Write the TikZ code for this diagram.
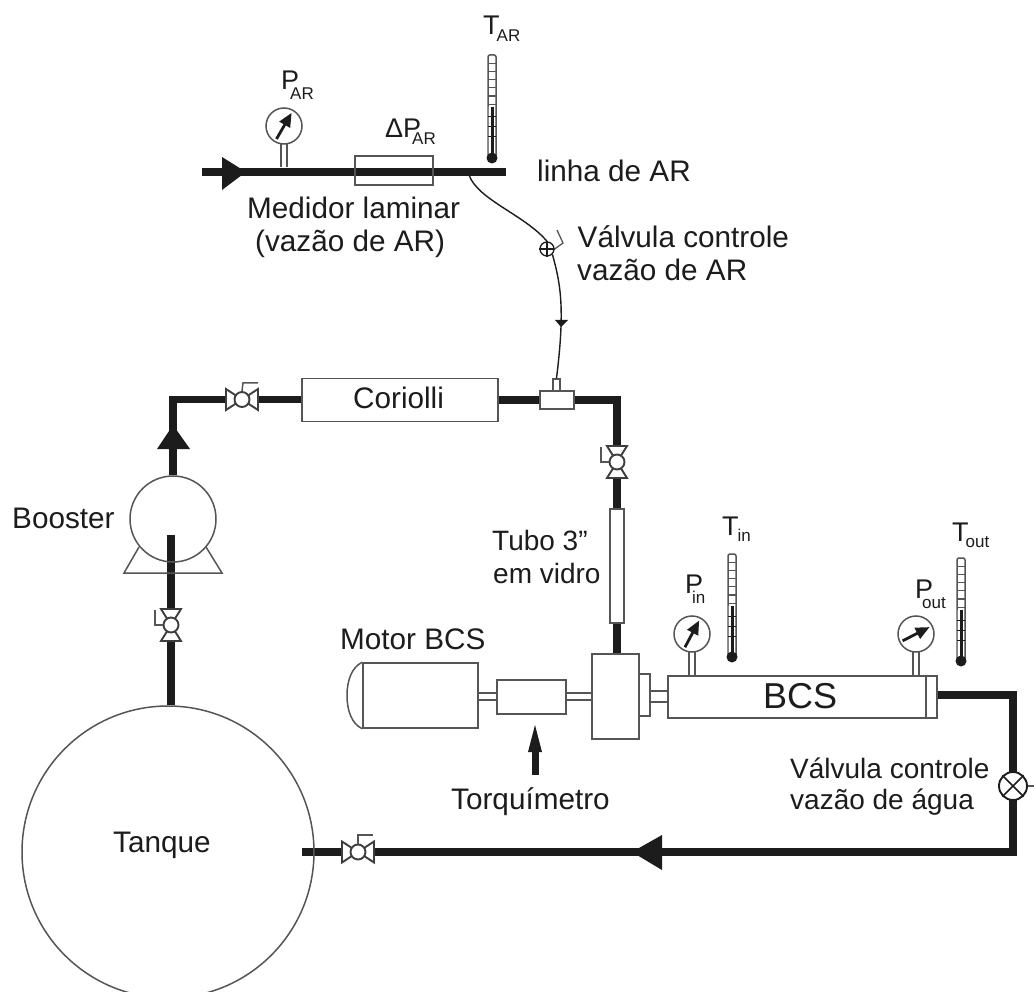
\documentclass[tikz,border=0pt]{standalone}
\usepackage{fontspec}
\setmainfont{Liberation Sans}
\usetikzlibrary{backgrounds}
\definecolor{ink}{HTML}{1C1C1C}
\definecolor{edge}{HTML}{555555}
\tikzset{
  pipe/.style={line width=7.5pt,ink,line join=miter},
  thinbox/.style={draw=edge,line width=1.5pt,minimum width=0pt,minimum height=0pt,inner sep=0pt},
  outline/.style={draw=edge,line width=1.5pt},
  valveline/.style={draw=ink!85,line width=1.9pt},
  lbl/.style={text=ink,font=\fontsize{29.7}{33}\selectfont,inner sep=0pt,anchor=base west,align=left},
  sym/.style={text=ink,inner sep=0pt,anchor=base west},
}
% big letter, subscript, kern, drop
\newcommand{\subbed}[4]{{\fontsize{27}{27}\selectfont #1}{\kern#3pt\fontsize{17}{17}\selectfont\raisebox{-#4pt}{#2}}}
\newcommand{\valveH}[3]{%
  \fill[white,valveline] (#2-16,#3-10.5) -- (#2,#3) -- (#2-16,#3+10.5) -- cycle;
  \fill[white,valveline] (#2+16,#3-10.5) -- (#2,#3) -- (#2+16,#3+10.5) -- cycle;
  \node[circle,fill=white,draw=ink!85,line width=1.9pt,minimum size=15pt,inner sep=0pt] (#1) at (#2,#3) {};}
\newcommand{\valveV}[3]{%
  \fill[white,valveline] (#2-10,#3-16) -- (#2,#3) -- (#2+10,#3-16) -- cycle;
  \fill[white,valveline] (#2-10,#3+16) -- (#2,#3) -- (#2+10,#3+16) -- cycle;
  \node[circle,fill=white,draw=ink!85,line width=1.9pt,minimum size=15pt,inner sep=0pt] (#1) at (#2,#3) {};
  \draw[edge,line width=1.5pt] (#2-16,#3-15) -- (#2-16,#3) -- (#1.west);}
% gauge: name, x, y, needle angle, stem bottom y
\newcommand{\gaugeAt}[5]{%
  \node[circle,outline,fill=white,minimum size=36pt,inner sep=0pt] (#1) at (#2,#3) {};
  \draw[outline] (#2-3.2,#3+18) -- (#2-3.2,#5) (#2+3.2,#3+18) -- (#2+3.2,#5);
  \draw[ink,line width=2.8pt] (#2,#3) ++(#4+180:15) -- ++(#4:20);
  \fill[ink] (#2,#3) ++(#4:15) -- ++(#4+155:15) -- ++(#4-90:12.7) -- cycle;}
% thermometer: name, x, top y, bulb y
\newcommand{\thermoAt}[4]{%
  \draw[outline,fill=white,rounded corners=2pt] (#2-4,#3) rectangle (#2+4,#4);
  \foreach \k in {1,...,6} \draw[edge,line width=1.2pt] (#2-4,#3+\k*8.2) -- (#2+4,#3+\k*8.2);
  \fill[edge!70] (#2-4,#3+52) rectangle (#2+4,#4);
  \fill[white] (#2-2.6,#3+52) rectangle (#2+2.6,#4-4);
  \fill[ink] (#2-1.5,#3+52) rectangle (#2+1.5,#4);
  \foreach \k in {1,2,3} \draw[ink,line width=1pt] (#2-4,#3+52+\k*10) -- (#2+4,#3+52+\k*10);
  \node[circle,fill=ink,minimum size=11pt,inner sep=0pt] (#1) at (#2,#4) {};}
\begin{document}
\begin{tikzpicture}[x=1pt,y=-1pt]
\clip (0,0) rectangle (1034,992);

% equipment
\node[circle,outline,minimum size=292pt,inner sep=0pt] (tank) at (168,852) {};
\node[circle,outline,minimum size=86pt,inner sep=0pt] (booster) at (173,519) {};
\draw[outline] (139,547) -- (124,573) -- (222,573) -- (206,547);
\node[thinbox,fill=white,minimum width=196pt,minimum height=43pt] (coriolli) at (400,400) {};
\node[thinbox,fill=white,minimum width=34pt,minimum height=18pt] (tee) at (557,400) {};
\node[thinbox,fill=white,minimum width=7pt,minimum height=12pt] (teestem) at (556.5,385) {};
\node[thinbox,minimum width=78pt,minimum height=29pt] (dp) at (394,170.5) {};
\node[thinbox,fill=white,minimum width=14pt,minimum height=114pt] (glass) at (617,566) {};
\node[thinbox,fill=white,minimum width=47pt,minimum height=85pt] (pumpbox) at (615.5,696.5) {};
\node[thinbox,fill=white,minimum width=11pt,minimum height=42pt] (flange) at (644.5,695) {};
\node[thinbox,fill=white,minimum width=269pt,minimum height=42pt] (bcs) at (802.5,697) {};
\draw[outline] (926,676) -- (926,718);
\node[thinbox,fill=white,minimum width=115pt,minimum height=65pt] (motor) at (420.5,695.5) {};
\draw[outline] (motor.north west) .. controls (352,667) and (347,680) .. (347,695.5) .. controls (347,711) and (352,724) .. (motor.south west);
\node[thinbox,fill=white,minimum width=69pt,minimum height=34pt] (torque) at (531.5,697) {};
\draw[outline] (motor.east |- 0,693) -- (torque.west |- 0,693) (motor.east |- 0,700) -- (torque.west |- 0,700);
\draw[outline] (torque.east |- 0,693) -- (pumpbox.west |- 0,693) (torque.east |- 0,700) -- (pumpbox.west |- 0,700);
\draw[outline] (flange.east |- 0,691) -- (bcs.west |- 0,691) (flange.east |- 0,702) -- (bcs.west |- 0,702);

% valves
\valveH{vdis}{242}{399.5}
\draw[edge,line width=1.5pt] (vdis.north) -- (243,383) -- (258,383);
\valveV{vsuc}{171}{625}
\valveV{vglass}{617}{462}
\valveH{vtank}{358}{852}
\draw[edge,line width=1.5pt] (vtank.north) -- (358,835) -- (373,835);

% water control valve
\node[circle,fill=white,draw=ink,line width=1.9pt,minimum size=28pt,inner sep=0pt] (vwater) at (1013,786) {};
\draw[ink,line width=1.7pt] (vwater.north west) -- (vwater.south east) (vwater.north east) -- (vwater.south west);
\coordinate (wstub) at (1034,786);
\draw[edge,line width=1.5pt] (vwater.east) -- (wstub);

% air control valve
\node[circle,fill=white,draw=ink,line width=1.3pt,minimum size=14pt,inner sep=0pt] (vair) at (547,249) {};
\draw[ink,line width=1.1pt] (vair.north) -- (vair.south) (vair.east) -- (vair.west);
\draw[edge,line width=1.3pt] (vair.east) -- (563,243) -- (557,230);

% instruments
\gaugeAt{gpar}{284}{126}{-60}{167}
\gaugeAt{gpin}{692}{634}{-62}{676}
\gaugeAt{gpout}{916}{634}{-27}{676}
\thermoAt{tar}{492}{55}{158}
\thermoAt{tin}{732}{554}{657}
\thermoAt{tout}{961}{558}{661}

\begin{pgfonlayer}{background}
  \fill[white] (0,0) rectangle (1034,992);
  \coordinate (airin) at (202,172);
  \coordinate (airend) at (506,172);
  \draw[pipe] (airin) -- (airend);
  \draw[pipe] (tank.north -| vsuc) -- (vsuc) -- (171,535);
  \draw[pipe] (booster.north) -- (173,399.5) -- (vdis.center) -- (coriolli.west |- vdis);
  \draw[pipe] (coriolli.east |- tee) -- (tee.west);
  \draw[pipe] (tee.east) -- (617,400) -- (vglass.center) -- (glass.north);
  \draw[pipe] (glass.south) -- (pumpbox.north -| glass);
  \draw[pipe] (bcs.east |- 0,695) -- (1013,695) -- (vwater.center) -- (1013,852) -- (vtank.center) -- (302,852);
\end{pgfonlayer}

% flow arrows
\coordinate (aA) at (246,172);
\fill[ink] (aA) -- (222,157) -- (222,190) -- cycle;
\coordinate (aB) at (173,425);
\fill[ink] (aB) -- (157,449) -- (190,449) -- cycle;
\coordinate (aC) at (632,852);
\fill[ink] (aC) -- (662,835) -- (662,870) -- cycle;
% torque pointer
\coordinate (tqtail) at (535,775);
\draw[ink,line width=7pt] (tqtail) -- (535,748);
\fill[ink] (535,725) -- (528,752) -- (542,752) -- cycle;

% air hose
\coordinate (hose) at (469,175);
\draw[ink,line width=1.4pt] (hose) .. controls (478,200) and (525,215) .. (vair.north);
\draw[ink,line width=1.4pt] (vair.south east) .. controls (561,285) and (565,310) .. (teestem.north);
\fill[ink] (561,327) -- (555,320) -- (568,320) -- cycle;

% labels
\node[sym] (lpar) at (281,90) {\subbed{P}{AR}{-9}{10}};
\node[sym] (ltar) at (483,35) {\subbed{T}{AR}{-3}{7}};
\node[sym] (ldp) at (385,138) {\subbed{ΔP}{AR}{-9}{7}};
\node[sym] (lpin) at (685,593) {\subbed{P}{in}{-11}{10}};
\node[sym] (ltin) at (722,535) {\subbed{T}{in}{-1}{6}};
\node[sym] (lpout) at (915,598) {\subbed{P}{out}{-11}{10}};
\node[sym] (ltout) at (952,541) {\subbed{T}{out}{-3}{6}};
\node[lbl] (llin) at (537,182) {linha de AR};
\node[lbl] (lmed) at (247,219) {Medidor laminar};
\node[lbl] (lmed2) at (255,252) {(vazão de AR)};
\node[lbl] (lva) at (577.5,248) {Válvula controle};
\node[lbl] (lva2) at (577,281) {vazão de AR};
\node[lbl] (lcor) at (353,409) {Coriolli};
\node[lbl] (lboo) at (12,528) {Booster};
\node[lbl,font=\fontsize{28}{32}\selectfont] (ltub) at (492,550) {Tubo 3"};
\node[lbl,font=\fontsize{28}{32}\selectfont] (ltub2) at (493,583) {em vidro};
\node[lbl] (lmot) at (340,649) {Motor BCS};
\node[text=ink,font=\fontsize{36}{36}\selectfont,inner sep=0pt,anchor=base west] (lbcs) at (763,708) {BCS};
\node[lbl] (ltor) at (451,809) {Torquímetro};
\node[lbl,font=\fontsize{28}{32}\selectfont] (lvw) at (790,778) {Válvula controle};
\node[lbl,font=\fontsize{28}{32}\selectfont] (lvw2) at (790,809) {vazão de água};
\node[lbl] (ltan) at (113,852) {Tanque};
\end{tikzpicture}
\end{document}
